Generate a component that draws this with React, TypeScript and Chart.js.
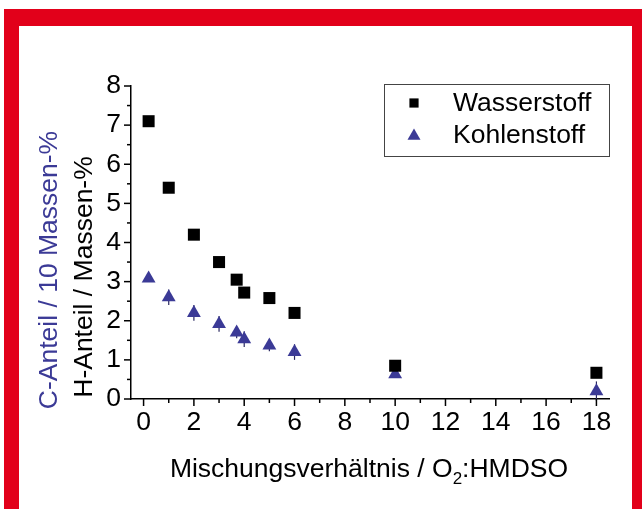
import React, { useEffect, useRef } from "react";
import { Chart, registerables } from "chart.js";

Chart.register(...registerables);

const mixRatio = [0.2, 1, 2, 3, 3.7, 4, 5, 6, 10, 18];
const hydrogen = [7.1, 5.4, 4.2, 3.5, 3.05, 2.72, 2.58, 2.2, 0.85, 0.67];
const carbon = [3.08, 2.6, 2.2, 1.92, 1.7, 1.53, 1.37, 1.2, 0.63, 0.2];
const carbonErr = [0.05, 0.2, 0.2, 0.2, 0.15, 0.2, 0.15, 0.2, 0.05, 0.25];

const xLabelTicks = [0, 2, 4, 6, 8, 10, 12, 14, 16, 18];
const xMinorTicks = [1, 3, 5, 7, 9, 11, 13, 15, 17];
const yLabelTicks = [0, 1, 2, 3, 4, 5, 6, 7, 8];
const yMinorTicks = [0.5, 1.5, 2.5, 3.5, 4.5, 5.5, 6.5, 7.5];

const seriesNames = ["Wasserstoff", "Kohlenstoff"];
const yTitleH = "H-Anteil / Massen-%";
const yTitleC = "C-Anteil / 10 Massen-%";
const xTitleParts = ["Mischungsverhältnis / O", "2", ":HMDSO"];

const BLUE = "#3b3a96";
const FONT = "'Liberation Sans', Arial, sans-serif";
const FS = 26.5;

const decorPlugin = {
  id: "decor",
  beforeDatasetsDraw(chart: any) {
    const ctx = chart.ctx;
    const xs = chart.scales.x;
    const ys = chart.scales.y;
    ctx.save();
    ctx.strokeStyle = "#2a2960";
    ctx.lineWidth = 1.2;
    mixRatio.forEach((xv, i) => {
      const e = carbonErr[i];
      const px = xs.getPixelForValue(xv);
      ctx.beginPath();
      ctx.moveTo(px, ys.getPixelForValue(carbon[i] - e));
      ctx.lineTo(px, ys.getPixelForValue(carbon[i] + e));
      ctx.stroke();
    });
    ctx.restore();
  },
  afterDraw(chart: any) {
    const ctx = chart.ctx;
    const xs = chart.scales.x;
    const ys = chart.scales.y;
    const area = chart.chartArea;
    ctx.save();
    ctx.strokeStyle = "#000";
    ctx.lineWidth = 1.5;
    const drawX = (v: number, len: number) => {
      const px = xs.getPixelForValue(v);
      ctx.beginPath();
      ctx.moveTo(px, area.bottom);
      ctx.lineTo(px, area.bottom + len);
      ctx.stroke();
    };
    const drawY = (v: number, len: number) => {
      const py = ys.getPixelForValue(v);
      ctx.beginPath();
      ctx.moveTo(area.left, py);
      ctx.lineTo(area.left - len, py);
      ctx.stroke();
    };
    xLabelTicks.forEach((v) => drawX(v, 7));
    xMinorTicks.forEach((v) => drawX(v, 4));
    yLabelTicks.forEach((v) => drawY(v, 7));
    yMinorTicks.forEach((v) => drawY(v, 4));

    // y titles
    ctx.font = `${FS}px ${FONT}`;
    ctx.textAlign = "center";
    ctx.textBaseline = "middle";
    ctx.save();
    ctx.translate(area.left - 46, 277);
    ctx.rotate(-Math.PI / 2);
    ctx.fillStyle = "#000";
    ctx.fillText(yTitleH, 0, 0);
    ctx.restore();
    ctx.save();
    ctx.translate(area.left - 81, 270);
    ctx.rotate(-Math.PI / 2);
    ctx.fillStyle = BLUE;
    ctx.fillText(yTitleC, 0, 0);
    ctx.restore();

    // x title
    ctx.textBaseline = "alphabetic";
    ctx.textAlign = "left";
    ctx.fillStyle = "#000";
    const big = `${FS}px ${FONT}`;
    const small = `17px ${FONT}`;
    ctx.font = big;
    const w1 = ctx.measureText(xTitleParts[0]).width;
    const w3 = ctx.measureText(xTitleParts[2]).width;
    ctx.font = small;
    const w2 = ctx.measureText(xTitleParts[1]).width;
    const total = w1 + w2 + w3;
    let sx = 369 - total / 2;
    const base = 477;
    ctx.font = big;
    ctx.fillText(xTitleParts[0], sx, base);
    sx += w1;
    ctx.font = small;
    ctx.fillText(xTitleParts[1], sx, base + 7);
    sx += w2;
    ctx.font = big;
    ctx.fillText(xTitleParts[2], sx, base);

    // legend
    const lx = area.right - 225;
    const ly = area.top - 2;
    ctx.strokeStyle = "#444";
    ctx.lineWidth = 1;
    ctx.strokeRect(lx + 0.5, ly + 0.5, 225, 72);
    const styles = [
      { pointStyle: "rect", radius: 6.5, color: "#000" },
      { pointStyle: "triangle", radius: 7.5, color: BLUE },
    ];
    seriesNames.forEach((name, i) => {
      const cy = ly + 19 + i * 32;
      ctx.fillStyle = styles[i].color;
      drawSymbol(ctx, styles[i].pointStyle, lx + 30, cy + (i === 1 ? 1 : 0), styles[i].radius);
      ctx.fillStyle = "#000";
      ctx.font = `${FS}px ${FONT}`;
      ctx.textBaseline = "middle";
      ctx.fillText(name, lx + 69, cy + 1);
    });
    ctx.restore();
  },
};

function drawSymbol(ctx: CanvasRenderingContext2D, style: string, x: number, y: number, r: number) {
  ctx.beginPath();
  if (style === "rect") {
    const s = Math.SQRT1_2 * r;
    ctx.rect(x - s, y - s, 2 * s, 2 * s);
  } else {
    let rad = 0;
    ctx.moveTo(x + Math.sin(rad) * r, y - Math.cos(rad) * r);
    rad += (2 * Math.PI) / 3;
    ctx.lineTo(x + Math.sin(rad) * r, y - Math.cos(rad) * r);
    rad += (2 * Math.PI) / 3;
    ctx.lineTo(x + Math.sin(rad) * r, y - Math.cos(rad) * r);
    ctx.closePath();
  }
  ctx.fill();
}

export default function App() {
  const ref = useRef<HTMLCanvasElement>(null);
  useEffect(() => {
    if (!ref.current) return;
    const chart = new Chart(ref.current, {
      type: "scatter",
      data: {
        datasets: [
          {
            label: seriesNames[0],
            data: mixRatio.map((x, i) => ({ x, y: hydrogen[i] })),
            pointStyle: "rect",
            pointRadius: 8.5,
            backgroundColor: "#000",
            borderColor: "#000",
            borderWidth: 0,
          },
          {
            label: seriesNames[1],
            data: mixRatio.map((x, i) => ({ x, y: carbon[i] })),
            pointStyle: "triangle",
            pointRadius: 8,
            backgroundColor: BLUE,
            borderColor: BLUE,
            borderWidth: 0,
          },
        ],
      },
      options: {
        responsive: false,
        animation: false,
        layout: { padding: { top: 86, right: 33, left: 0, bottom: 0 } },
        plugins: { legend: { display: false }, tooltip: { enabled: false } },
        scales: {
          x: {
            type: "linear",
            min: -0.5,
            max: 18.5,
            afterBuildTicks: (s: any) => {
              s.ticks = xLabelTicks.map((v) => ({ value: v }));
            },
            afterFit: (s: any) => {
              s.height = 110;
            },
            grid: { display: true, drawOnChartArea: false, drawTicks: false },
            border: { display: true, color: "#000", width: 1.5 },
            ticks: {
              autoSkip: false,
              maxRotation: 0,
              minRotation: 0,
              padding: 8,
              color: "#000",
              font: { family: FONT, size: FS },
            },
          },
          y: {
            type: "linear",
            min: 0,
            max: 8,
            afterBuildTicks: (s: any) => {
              s.ticks = yLabelTicks.map((v) => ({ value: v }));
            },
            afterFit: (s: any) => {
              s.width = 131;
            },
            grid: { display: true, drawOnChartArea: false, drawTicks: false },
            border: { display: true, color: "#000", width: 1.5 },
            ticks: {
              padding: 10,
              color: "#000",
              font: { family: FONT, size: FS },
            },
          },
        },
      },
      plugins: [decorPlugin],
    });
    return () => chart.destroy();
  }, []);

  return (
    <div style={{ position: "absolute", left: 0, top: 0, width: 642, height: 509, background: "#fff", overflow: "hidden" }}>
      <div
        style={{
          position: "absolute",
          left: 4,
          top: 9,
          width: 613,
          height: 500,
          borderLeft: "15px solid #e2001a",
          borderTop: "17px solid #e2001a",
          borderRight: "10px solid #e2001a",
          boxSizing: "content-box",
        }}
      />
      <canvas ref={ref} width={642} height={509} style={{ position: "absolute", left: 0, top: 0 }} />
    </div>
  );
}
